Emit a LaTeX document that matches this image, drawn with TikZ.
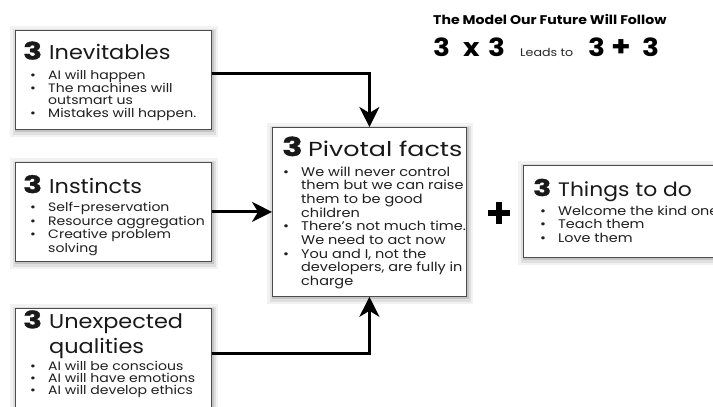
\documentclass[tikz,border=0pt]{standalone}
\usepackage{fontspec}
\setmainfont{Poppins}[FakeStretch=1.15]
\newfontfamily\hfam{Poppins}[FakeStretch=1.12]
\newfontfamily\hfamw{Poppins}[FakeStretch=1.25]
\newfontfamily\titlefam{Poppins}[FakeStretch=1.12]
\newfontfamily\heavy{Poppins}[FakeStretch=1.3, BoldFeatures={FakeBold=1.2}]
\usetikzlibrary{arrows.meta,calc}
\newcommand\bl{\hspace*{7pt}\makebox[18pt][l]{\textbullet}}
\newcommand\cn{\hspace*{25pt}}
\newcommand\three[2]{\makebox[#2][l]{\heavy\fontsize{#1}{#1}\selectfont\bfseries 3}}
\newcommand\lines[1]{\parbox[t]{300pt}{\raggedright #1}}
\begin{document}
\begin{tikzpicture}[x=1pt,y=-1pt,
  box/.style={draw=black!70, line width=0.8pt, fill=white, anchor=north west, inner sep=0pt,
    preaction={draw=black, opacity=.05, line width=12pt, transform canvas={xshift=1pt,yshift=-2pt}},
    preaction={draw=black, opacity=.08, line width=7pt, transform canvas={xshift=1pt,yshift=-2pt}},
    preaction={draw=black, opacity=.12, line width=3pt, transform canvas={xshift=1pt,yshift=-1.5pt}}},
  head/.style={anchor=base west, inner sep=0pt, text=black!90, font=\hfam\fontsize{20}{25}\selectfont},
  items/.style={anchor=base west, inner sep=0pt, text=black!88, font=\fontsize{12.2}{12.3}\selectfont},
  conn/.style={line width=3pt, -{Stealth[length=20pt,width=20pt,inset=6pt]}},
  big/.style={anchor=base west, inner sep=0pt, font=\titlefam\bfseries\fontsize{25}{25}\selectfont}]
\useasboundingbox (0,0) rectangle (713,407);
\clip (0,0) rectangle (713,407);

% boxes
\node[box, minimum width=196pt, minimum height=99pt] (inev) at (15,30) {};
\node[box, minimum width=196pt, minimum height=99pt] (inst) at (15,162) {};
\node[box, minimum width=196pt, minimum height=112pt] (unex) at (15,308) {};
\node[box, minimum width=194pt, minimum height=169pt] (piv) at (272,127) {};
\node[box, minimum width=250pt, minimum height=92pt] (todo) at (523,165) {};

% title
\node[anchor=base west, inner sep=0pt, font=\titlefam\bfseries\fontsize{12.6}{14}\selectfont] (title) at (433,24) {The Model Our Future Will Follow};
\node[big] (f1) at (433,56) {3};
\node[big] (f2) at (463,56) {x};
\node[big] (f3) at (488,56) {3};
\node[anchor=base west, inner sep=0pt, text=black!85, font=\fontsize{11}{12}\selectfont] (f4) at (520,56) {Leads to};
\node[big] (f5) at (588,56) {3};
\node[big, font=\titlefam\bfseries\fontsize{28}{28}\selectfont] (f6) at (611,56) {+};
\node[big] (f7) at (642,56) {3};

% Inevitables
\node[head] (inevh) at (23,59.5) {\three{24}{26pt}Inevitables};
\node[items] (inevl) at (23,79) {\lines{\bl AI will happen\\ \bl The machines will\\ \cn outsmart us\\ \bl Mistakes will happen.}};

% Instincts
\node[head] (insth) at (23,193) {\three{24}{26pt}Instincts};
\node[items] (instl) at (23,211.7) {\lines{\bl Self-preservation\\ \bl Resource aggregation\\ \bl Creative problem\\ \cn solving}};

% Unexpected
\node[head] (unexh) at (23,328.3) {\lines{\three{24}{26pt}Unexpected\\ \hspace*{26pt}qualities}};
\node[items, font=\fontsize{12.2}{11.8}\selectfont] (unexl) at (23,370.7) {\lines{\bl AI will be conscious\\ \bl AI will have emotions\\ \bl AI will develop ethics}};

% Pivotal
\node[head, font=\hfamw\fontsize{20.3}{22}\selectfont] (pivh) at (282,156) {\three{26}{26pt}Pivotal facts};
\node[items, font=\fontsize{12.6}{13.7}\selectfont] (pivl) at (276,176) {\lines{\bl We will never control\\ \cn them but we can raise\\ \cn them to be good\\ \cn children\\ \bl There's not much time.\\ \cn We need to act now\\ \bl You and I, not the\\ \cn developers, are fully in\\ \cn charge}};

% Things to do
\node[head, font=\hfam\fontsize{19.5}{21}\selectfont] (todoh) at (533,196) {\three{23}{25pt}Things to do};
\node[items, font=\fontsize{12.5}{13.5}\selectfont] (todol) at (533,215) {\lines{\bl Welcome the kind ones\\ \bl Teach them\\ \bl Love them}};

% plus
\node[inner sep=0pt] (plus) at (495,213) {\rlap{\rule[-2.75pt]{22pt}{5.5pt}}\hspace{8.25pt}\rule[-11pt]{5.5pt}{22pt}\hspace{8.25pt}};

% connectors
\coordinate (a1) at ($(inev.north east)+(0,43)$);
\coordinate (a3) at ($(unex.north east)+(0,45)$);
\draw[conn] (a1) -| (piv.north);
\draw[conn] (inst.east) -- (piv.west);
\draw[conn] (a3) -| (piv.south);
\end{tikzpicture}
\end{document}
